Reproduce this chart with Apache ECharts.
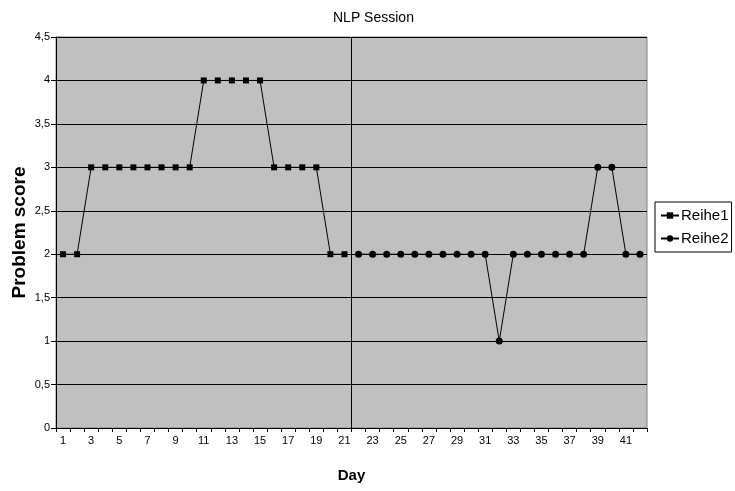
<!DOCTYPE html>
<html><head><meta charset="utf-8">
<script src="https://cdn.jsdelivr.net/npm/echarts@6/dist/echarts.min.js"></script>
<style>html,body{margin:0;padding:0;background:#fff}#c{width:735px;height:491px}</style>
</head><body><div id="c"></div>
<script>
const days = [];
for (let d = 1; d <= 42; d++) days.push(String(d));
const reihe1 = [2,2,3,3,3,3,3,3,3,3,4,4,4,4,4,3,3,3,3,2,2,
  null,null,null,null,null,null,null,null,null,null,null,null,null,null,null,null,null,null,null,null,null];
const reihe2 = [null,null,null,null,null,null,null,null,null,null,null,null,null,null,null,null,null,null,null,null,null,
  2,2,2,2,2,2,2,2,2,2,1,2,2,2,2,2,2,3,3,2,2];
const sessionBoundary = 21; // NLP session between day 21 and 22
const yTicks = ['0','0,5','1','1,5','2','2,5','3','3,5','4','4,5'];

const font = '"Liberation Sans", Arial, sans-serif';
const chart = echarts.init(document.getElementById('c'));
chart.setOption({
  animation: false,
  backgroundColor: '#fff',
  title: {
    text: 'NLP Session', left: 328, top: 6,
    textStyle: { fontFamily: font, fontSize: 14, fontWeight: 'normal', color: '#000' }
  },
  grid: { left: 56, right: 88, top: 37, bottom: 63, outerBoundsMode: 'none', containLabel: false,
    show: true, backgroundColor: '#c0c0c0', borderColor: '#808080', borderWidth: 1 },
  legend: {
    orient: 'vertical', left: 655, top: 202,
    backgroundColor: '#fff', borderColor: '#000', borderWidth: 1,
    padding: [6, 3, 6, 5], itemGap: 8, itemWidth: 18, itemHeight: 8,
    textStyle: { fontFamily: font, fontSize: 15, color: '#000', padding: [0,0,0,-3] },
    data: ['Reihe1', 'Reihe2']
  },
  xAxis: [{
    type: 'category', data: days, boundaryGap: true,
    name: 'Day', nameLocation: 'middle', nameGap: 40,
    nameTextStyle: { fontFamily: font, fontSize: 15, fontWeight: 'bold', color: '#000' },
    axisLine: { lineStyle: { color: '#000', width: 1 } },
    axisTick: { show: true, length: 4, interval: 0, lineStyle: { color: '#000' } },
    axisLabel: { interval: 1, fontFamily: font, fontSize: 11, color: '#000', margin: 7 },
    splitLine: { show: false }
  }, {
    type: 'value', min: 0, max: 42, show: false
  }],
  yAxis: {
    type: 'value', min: 0, max: 4.5, interval: 0.5,
    name: 'Problem score', nameLocation: 'middle', nameGap: 27, nameMoveOverlap: false,
    nameTextStyle: { fontFamily: font, fontSize: 19, fontWeight: 'bold', color: '#000' },
    axisLine: { show: true, lineStyle: { color: '#000' } },
    axisTick: { show: true, length: 5, lineStyle: { color: '#000' } },
    axisLabel: { fontFamily: font, fontSize: 11, color: '#000', margin: 6,
      formatter: v => yTicks[Math.round(v * 2)] },
    splitLine: { show: true, lineStyle: { color: '#000', width: 1 } }
  },
  series: [{
    name: 'Reihe1', type: 'line', data: reihe1,
    symbol: 'rect', symbolSize: 6, showAllSymbol: true,
    lineStyle: { color: '#000', width: 1 }, itemStyle: { color: '#000' },
    connectNulls: false
  }, {
    name: 'Reihe2', type: 'line', data: reihe2,
    symbol: 'circle', symbolSize: 7, showAllSymbol: true,
    lineStyle: { color: '#000', width: 1 }, itemStyle: { color: '#000' },
    connectNulls: false
  }, {
    name: 'boundary', type: 'line', xAxisIndex: 1, data: [],
    markLine: {
      silent: true, symbol: 'none', label: { show: false },
      lineStyle: { color: '#000', width: 1, type: 'solid' },
      data: [{ xAxis: sessionBoundary }]
    }
  }]
});
</script></body></html>
